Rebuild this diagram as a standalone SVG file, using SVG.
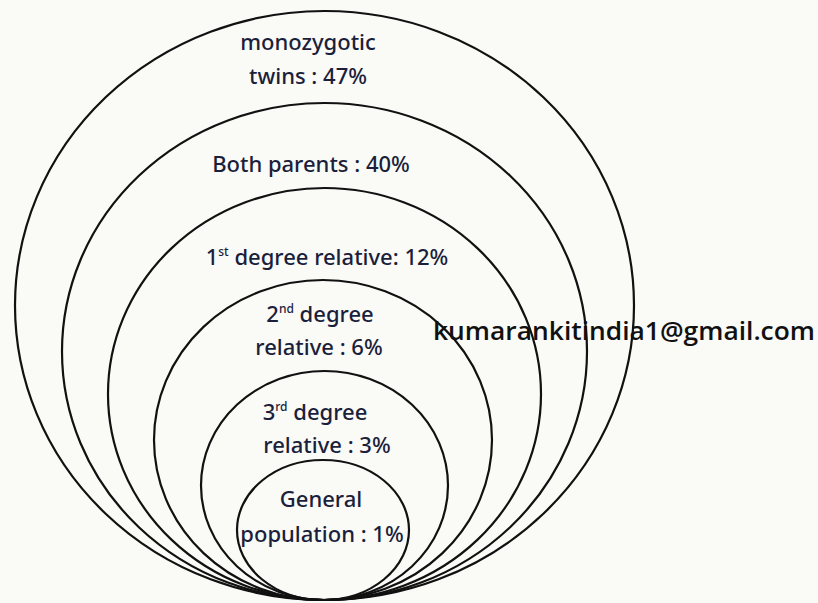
<svg xmlns="http://www.w3.org/2000/svg" width="818" height="603" viewBox="0 0 818 603">
<style>
.ring{fill:none;stroke:#111;stroke-width:2.2}
.lbl{font-family:"Noto Sans","DejaVu Sans",sans-serif;font-size:22px;font-weight:500;fill:#1b1f3b;text-anchor:middle}
.sup{font-size:12px}
.mail{font-family:"Open Sans","Noto Sans",sans-serif;font-size:25px;font-weight:600;fill:#111}
</style>
<rect width="818" height="603" fill="#fafaf7"/>
<g id="mz">
<ellipse class="ring" cx="324.5" cy="305.5" rx="309.5" ry="294.5"/>
<text class="lbl" x="308" y="50">monozygotic</text>
<text class="lbl" x="308" y="84">twins : 47%</text>
</g>
<g id="bp">
<ellipse class="ring" cx="324.5" cy="351.5" rx="262.5" ry="248.5"/>
<text class="lbl" x="311" y="172">Both parents : 40%</text>
</g>
<g id="d1">
<ellipse class="ring" cx="324.5" cy="394" rx="216.5" ry="206"/>
<text class="lbl" x="327" y="265">1<tspan class="sup" dy="-9">st</tspan><tspan dy="9"> degree relative: 12%</tspan></text>
</g>
<g id="d2">
<ellipse class="ring" cx="323" cy="440" rx="169" ry="160"/>
<text class="lbl" x="320" y="322">2<tspan class="sup" dy="-9">nd</tspan><tspan dy="9"> degree</tspan></text>
<text class="lbl" x="319" y="355">relative : 6%</text>
</g>
<g id="d3">
<ellipse class="ring" cx="324.5" cy="485.5" rx="123.5" ry="114.5"/>
<text class="lbl" x="315" y="420">3<tspan class="sup" dy="-9">rd</tspan><tspan dy="9"> degree</tspan></text>
<text class="lbl" x="327" y="453">relative : 3%</text>
</g>
<g id="gp">
<ellipse class="ring" cx="323" cy="530" rx="86" ry="70"/>
<text class="lbl" x="321" y="507">General</text>
<text class="lbl" x="322" y="542">population : 1%</text>
</g>
<g id="connectors"/>
<text class="mail" x="433" y="340" textLength="382" lengthAdjust="spacingAndGlyphs">kumarankitindia1@gmail.com</text>
</svg>
